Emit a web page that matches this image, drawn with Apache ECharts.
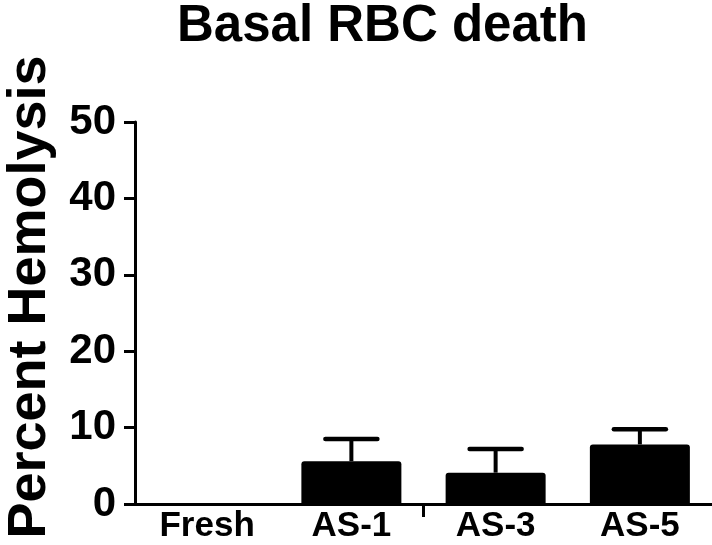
<!DOCTYPE html>
<html>
<head>
<meta charset="utf-8">
<script src="https://cdn.jsdelivr.net/npm/echarts@6/dist/echarts.min.js"></script>
<style>html,body{margin:0;padding:0;background:#fff;}#c{width:712px;height:545px;}</style>
</head>
<body>
<div id="c"></div>
<script>
var categories = ['Fresh', 'AS-1', 'AS-3', 'AS-5'];
var means = [0, 5.6, 4.1, 7.8];
var errors = [0, 2.9, 3.1, 2.0];
var yTicks = [0, 10, 20, 30, 40, 50];
// x-axis tick drawn only between these two category indices
var xTickBetween = [[1, 2]];

var FONT = '"Liberation Sans", Arial, sans-serif';
var errData = categories.map(function (c, i) { return [i, means[i], means[i] + errors[i]]; });

var chart = echarts.init(document.getElementById('c'), null, { renderer: 'canvas' });
chart.setOption({
  backgroundColor: '#ffffff',
  animation: false,
  title: {
    text: 'Basal RBC death',
    left: 172, top: -4,
    textStyle: { fontFamily: FONT, fontWeight: 'bold', fontSize: 51, color: '#000' }
  },
  grid: { left: 135, right: 0, top: 122, bottom: 41, outerBoundsMode: 'none', containLabel: false },
  xAxis: {
    type: 'category',
    data: categories,
    axisLine: { lineStyle: { color: '#000', width: 3 } },
    axisTick: { show: false },
    axisLabel: { fontFamily: FONT, fontWeight: 'bold', fontSize: 35, color: '#000', margin: 5 }
  },
  yAxis: {
    type: 'value', min: yTicks[0], max: yTicks[yTicks.length - 1], interval: 10,
    name: 'Percent Hemolysis', nameLocation: 'middle', nameGap: 78,
    nameTextStyle: { fontFamily: FONT, fontWeight: 'bold', fontSize: 54, color: '#000', padding: [0, 0, 0, 32] },
    axisLine: { show: true, lineStyle: { color: '#000', width: 3 } },
    axisTick: { show: true, length: 11, lineStyle: { color: '#000', width: 3 } },
    axisLabel: { fontFamily: FONT, fontWeight: 'bold', fontSize: 42, color: '#000', margin: 19 },
    splitLine: { show: false }
  },
  series: [
    {
      type: 'bar', data: means, barWidth: 100,
      itemStyle: { color: '#000', borderRadius: [3, 3, 0, 0] }
    },
    {
      type: 'custom', data: errData, z: 3,
      renderItem: function (params, api) {
        var i = api.value(0), lo = api.value(1), hi = api.value(2);
        if (hi <= lo) return null;
        var p0 = api.coord([i, lo]);
        var p1 = api.coord([i, hi]);
        var half = 26;
        return {
          type: 'group',
          children: [
            { type: 'line', shape: { x1: p0[0], y1: p0[1], x2: p1[0], y2: p1[1] },
              style: { stroke: '#000', lineWidth: 4 } },
            { type: 'line', shape: { x1: p1[0] - half, y1: p1[1], x2: p1[0] + half, y2: p1[1] },
              style: { stroke: '#000', lineWidth: 4.5, lineCap: 'round' } }
          ]
        };
      }
    },
    {
      type: 'custom', data: xTickBetween, z: 4, clip: false, silent: true,
      renderItem: function (params, api) {
        var a = api.coord([api.value(0), 0]);
        var b = api.coord([api.value(1), 0]);
        var x = (a[0] + b[0]) / 2;
        return { type: 'line', shape: { x1: x, y1: a[1], x2: x, y2: a[1] + 13 },
          style: { stroke: '#000', lineWidth: 3 } };
      }
    }
  ]
});
</script>
</body>
</html>
